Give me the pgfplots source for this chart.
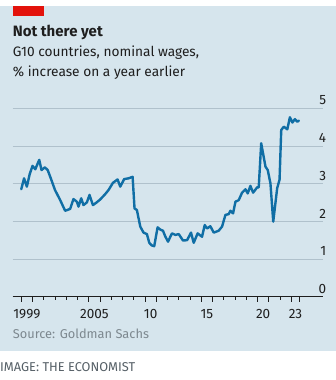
\documentclass[border=0pt]{standalone}
\usepackage{fontspec}
\setmainfont{Fira Sans}
\usepackage{pgfplots}
\pgfplotsset{compat=1.18}
\definecolor{bg}{RGB}{214,229,237}
\definecolor{gridc}{RGB}{176,193,204}
\definecolor{linec}{RGB}{16,110,165}
\definecolor{ecred}{RGB}{227,18,11}
\definecolor{txt}{RGB}{30,30,30}
\definecolor{srcc}{RGB}{125,136,143}
\definecolor{imgc}{RGB}{85,95,102}
\pgfplotstableread{
x y
1999.00 2.85
1999.25 3.14
1999.50 2.92
1999.75 3.25
2000.00 3.47
2000.25 3.38
2000.40 3.49
2000.60 3.63
2000.80 3.36
2001.10 3.43
2001.35 3.36
2001.70 3.08
2002.00 2.83
2002.45 2.57
2002.90 2.28
2003.10 2.30
2003.35 2.33
2003.64 2.59
2003.94 2.52
2004.09 2.39
2004.33 2.61
2004.53 2.43
2004.83 2.50
2005.07 2.70
2005.37 2.43
2005.70 2.50
2006.02 2.58
2006.46 2.72
2006.76 2.83
2007.15 3.02
2007.56 3.11
2007.80 2.92
2008.15 3.12
2008.54 3.14
2008.90 3.18
2009.07 2.34
2009.28 2.30
2009.58 1.86
2009.87 1.70
2010.17 1.66
2010.38 1.43
2010.60 1.36
2010.82 1.34
2011.12 1.84
2011.36 1.78
2011.60 1.75
2011.80 1.60
2012.05 1.46
2012.25 1.59
2012.40 1.68
2012.70 1.64
2013.00 1.66
2013.38 1.49
2013.74 1.50
2014.09 1.70
2014.33 1.43
2014.68 1.68
2015.07 1.59
2015.31 1.90
2015.52 1.81
2015.81 1.87
2016.11 1.70
2016.55 1.75
2016.85 1.86
2017.15 2.17
2017.44 2.19
2017.59 2.28
2017.83 2.21
2018.04 2.52
2018.33 2.56
2018.63 2.76
2018.93 2.85
2019.13 2.74
2019.37 2.94
2019.61 2.76
2019.97 2.90
2020.11 2.90
2020.33 4.07
2020.71 3.45
2020.91 3.36
2021.15 3.01
2021.40 1.99
2021.75 2.88
2021.96 3.10
2022.11 4.42
2022.34 4.51
2022.65 4.44
2022.88 4.76
2023.10 4.62
2023.33 4.71
2023.54 4.64
2023.68 4.67
}\wages
\begin{document}
\begin{tikzpicture}
\path[use as bounding box] (0pt,0pt) rectangle (336pt,-380pt);
\fill[bg] (0pt,-6pt) rectangle (336pt,-351pt);
\fill[ecred] (12.7pt,-6pt) rectangle (44pt,-16pt);
\node[anchor=base west, inner sep=0pt, text=txt, font=\bfseries\fontsize{15}{15}\selectfont] at (12.7pt,-36.7pt) {Not there yet};
\node[anchor=base west, inner sep=0pt, text=txt, font=\fontsize{13.7}{13.7}\selectfont] at (12.7pt,-56.7pt) {G10 countries, nominal wages,};
\node[anchor=base west, inner sep=0pt, text=txt, font=\fontsize{13.7}{13.7}\selectfont] at (12.7pt,-76pt) {\% increase on a year earlier};
\node[anchor=base west, inner sep=0pt, text=srcc, font=\fontsize{12.8}{12.8}\selectfont] at (12.7pt,-338.3pt) {Source: Goldman Sachs};
\node[anchor=base west, inner sep=0pt, text=imgc, font=\fontsize{12.8}{12.8}\selectfont] at (0pt,-371.7pt) {IMAGE: THE ECONOMIST};
\begin{axis}[
  at={(12.7pt,-296.7pt)}, anchor=south west,
  scale only axis, width=310.6pt, height=188.5pt,
  xmin=1998.24, xmax=2025.85, ymin=0, ymax=5,
  axis x line*=bottom, axis y line*=right,
  x axis line style={draw=txt, line width=0.8pt, -},
  y axis line style={draw=none},
  ytick={0,1,2,3,4,5},
  ytick style={draw=none},
  /pgf/number format/assume math mode=true,
  yticklabel style={anchor=south east, inner sep=0pt, xshift=0pt, yshift=3pt, text=txt, font=\fontsize{13.5}{13.5}\selectfont},
  ymajorgrids, grid style={gridc, line width=0.8pt},
  xtick={2001,2002,2003,2004,2007,2008,2009,2012,2013,2014,2017,2018,2019,2022},
  xticklabels={},
  x tick style={draw=txt, line width=0.7pt},
  major tick length=3pt,
  tick align=outside,
  extra x ticks={1999,2000,2005,2006,2010,2011,2015,2016,2020,2021,2023,2023.75},
  extra x tick labels={},
  extra x tick style={major tick length=5pt, tick style={draw=txt, line width=0.7pt}},
  clip=false,
]
\addplot[linec, line width=2.4pt, line join=round, line cap=round] table[x=x,y=y] {\wages};
\foreach \p/\l in {1999.5/1999,2005.5/2005,2010.5/10,2015.5/15,2020.5/20,2023.375/23} {
  \edef\tmp{\noexpand\node[anchor=base, inner sep=0pt, text=txt, font=\noexpand\fontsize{13.5}{13.5}\noexpand\selectfont] at (axis cs:\p,0) [yshift=-21.6pt] {\l};}
  \tmp
}
\end{axis}
\end{tikzpicture}
\end{document}
